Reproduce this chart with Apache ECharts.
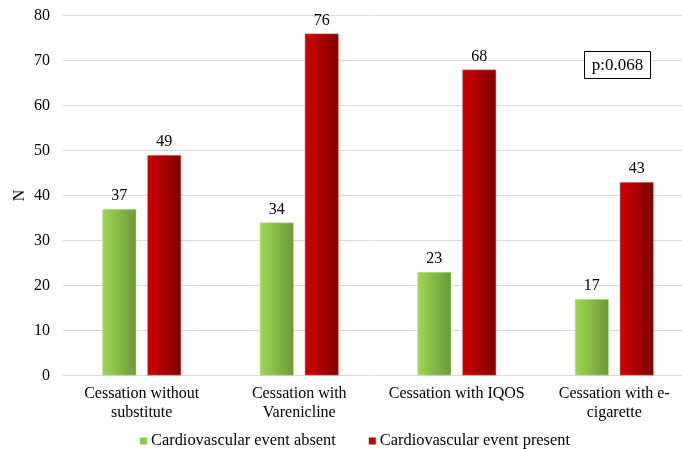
<!DOCTYPE html>
<html><head><meta charset="utf-8">
<script src="https://cdn.jsdelivr.net/npm/echarts@6/dist/echarts.min.js"></script>
<style>html,body{margin:0;padding:0;background:#fff}#c{width:682px;height:449px}</style>
</head><body><div id="c"></div>
<script>
const categories = ["Cessation without\nsubstitute", "Cessation with\nVarenicline", "Cessation with IQOS", "Cessation with e-\ncigarette"];
const absentValues = [37, 34, 23, 17];
const presentValues = [49, 76, 68, 43];
const seriesNames = ["Cardiovascular event absent", "Cardiovascular event present"];
const yTicks = [0, 10, 20, 30, 40, 50, 60, 70, 80];
const pText = "p:0.068";

const font = "'Liberation Serif', 'Times New Roman', serif";
const chart = echarts.init(document.getElementById('c'));
function grad(a, b) {
  return new echarts.graphic.LinearGradient(0, 0, 1, 0, [{offset: 0, color: a}, {offset: 1, color: b}]);
}
const idx = categories.map((_, i) => i);
// plot spans 630px for 4 categories but is cut by the window edge at 619px
const xMax = -0.5 + 619 / 157.5;
chart.setOption({
  animation: false,
  textStyle: {fontFamily: font},
  grid: {left: 63, top: 15.5, width: 619, height: 360, containLabel: false},
  legend: {
    data: [
      {name: seriesNames[0], itemStyle: {color: '#8cc84b', borderWidth: 0}},
      {name: seriesNames[1], itemStyle: {color: '#c00000', borderWidth: 0}}
    ],
    top: 428, left: 135, itemWidth: 7, itemHeight: 7, itemGap: 33,
    icon: 'rect',
    textStyle: {fontFamily: font, fontSize: 16.4, color: '#000', padding: [0, 0, 0, -1]}
  },
  xAxis: {
    type: 'value', min: -0.5, max: xMax,
    axisLine: {show: true, onZero: false, lineStyle: {color: '#d9d9d9'}}, axisTick: {show: false},
    splitLine: {show: false},
    axisLabel: {customValues: idx, fontFamily: font, fontSize: 16, color: '#000', lineHeight: 19, margin: 9,
      formatter: v => categories[Math.round(v)] || ''}
  },
  yAxis: {
    type: 'value', min: 0, max: 80, interval: 10,
    name: 'N', nameLocation: 'middle', nameGap: 35, nameRotate: 90, nameMoveOverlap: false,
    nameTextStyle: {fontFamily: font, fontSize: 16, color: '#000'},
    axisLine: {show: false}, axisTick: {show: false},
    axisLabel: {fontFamily: font, fontSize: 16, color: '#000', margin: 13,
      formatter: v => yTicks.includes(v) ? String(v) : ''},
    splitLine: {lineStyle: {color: '#d9d9d9'}}
  },
  series: [
    {name: seriesNames[0], type: 'bar', data: absentValues.map((v, i) => [i, v]), barWidth: 34, barGap: '32%',
     itemStyle: {color: grad('#9ed952', '#6b983a'), borderColor: '#c5e6a0', borderWidth: 0.5},
     label: {show: true, position: 'top', distance: 5, fontFamily: font, fontSize: 16, color: '#000',
       formatter: p => String(p.value[1])}},
    {name: seriesNames[1], type: 'bar', data: presentValues.map((v, i) => [i, v]), barWidth: 34, barGap: '32%',
     itemStyle: {color: grad('#d30000', '#7c0000'), borderColor: '#e8a0a0', borderWidth: 0.5},
     label: {show: true, position: 'top', distance: 5, fontFamily: font, fontSize: 16, color: '#000',
       formatter: p => String(p.value[1])}}
  ],
  graphic: [
    {type: 'rect', shape: {x: 584.5, y: 51.5, width: 66, height: 27},
     style: {fill: '#fff', stroke: '#000', lineWidth: 1}, z: 100},
    {type: 'text', x: 617.5, y: 65.5, z: 101,
     style: {text: pText, font: "17px 'Liberation Serif', serif", fill: '#000', align: 'center', verticalAlign: 'middle'}}
  ]
});
</script></body></html>
